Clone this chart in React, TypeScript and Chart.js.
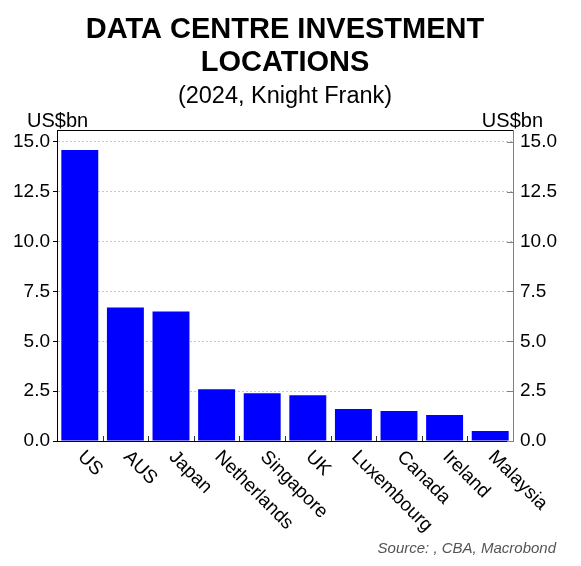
import { useEffect, useRef } from "react"
import { Chart, registerables } from "chart.js"

Chart.register(...registerables)

const FONT = '"Liberation Sans", Arial, sans-serif'

const titleLines = ["DATA CENTRE INVESTMENT", "LOCATIONS"]
const subtitle = "(2024, Knight Frank)"
const unitLabel = "US$bn"
const sourceText = "Source: , CBA, Macrobond"

const countries = [
  "US",
  "AUS",
  "Japan",
  "Netherlands",
  "Singapore",
  "UK",
  "Luxembourg",
  "Canada",
  "Ireland",
  "Malaysia",
]
const investment = [14.6, 6.7, 6.5, 2.6, 2.4, 2.3, 1.6, 1.5, 1.3, 0.5]

const yMin = 0
const yMax = 15.6
const yTicks = [0, 2.5, 5, 7.5, 10, 12.5, 15]

// use our own tick list (chart.js drops 15 and adds 15.6 otherwise)
const setTicks = (scale: any) => {
  scale.ticks = yTicks.map((value) => ({ value }))
}

const overlayPlugin = {
  id: "overlay",
  afterDraw(chart: any) {
    const { ctx, chartArea: a, scales } = chart
    const x = scales.x
    const y2 = scales.y2
    ctx.save()

    // top border of the plot
    ctx.strokeStyle = "#000"
    ctx.lineWidth = 1
    ctx.beginPath()
    ctx.moveTo(a.left, a.top + 0.5)
    ctx.lineTo(a.right, a.top + 0.5)
    ctx.stroke()

    // small ticks between categories, pointing up
    ctx.strokeStyle = "#333"
    for (let i = 1; i < countries.length; i++) {
      const px = Math.round((x.getPixelForValue(i - 1) + x.getPixelForValue(i)) / 2) + 0.5
      ctx.beginPath()
      ctx.moveTo(px, a.bottom)
      ctx.lineTo(px, a.bottom - 5)
      ctx.stroke()
    }

    // inward ticks on the right axis
    ctx.strokeStyle = "#808080"
    y2.ticks.forEach((t: any) => {
      const py = Math.round(y2.getPixelForValue(t.value)) + 0.5
      ctx.beginPath()
      ctx.moveTo(a.right - 6, py)
      ctx.lineTo(a.right, py)
      ctx.stroke()
    })

    // rotated category labels
    ctx.fillStyle = "#000"
    ctx.font = `19px ${FONT}`
    ctx.textAlign = "left"
    ctx.textBaseline = "middle"
    countries.forEach((c, i) => {
      ctx.save()
      ctx.translate(x.getPixelForValue(i) + 1, a.bottom + 13)
      ctx.rotate(Math.PI / 4)
      ctx.fillText(c, 0, 0)
      ctx.restore()
    })

    // titles
    const cx = (a.left + a.right) / 2
    ctx.textAlign = "center"
    ctx.textBaseline = "alphabetic"
    ctx.font = `bold 29px ${FONT}`
    ctx.fillText(titleLines[0], cx, 38)
    ctx.fillText(titleLines[1], cx, 71)
    ctx.font = `23.5px ${FONT}`
    ctx.fillText(subtitle, cx, 103)

    // units above each axis
    ctx.font = `20px ${FONT}`
    ctx.textAlign = "left"
    ctx.fillText(unitLabel, 27, 127)
    ctx.textAlign = "right"
    ctx.fillText(unitLabel, 543, 127)

    // source note
    ctx.font = `italic 15px ${FONT}`
    ctx.fillStyle = "#555"
    ctx.fillText(sourceText, 556, 553)

    ctx.restore()
  },
}

export default function App() {
  const chartRef = useRef<HTMLCanvasElement>(null)
  const chartInstance = useRef<Chart | null>(null)

  useEffect(() => {
    document.body.style.margin = "0"
    if (!chartRef.current) return
    if (chartInstance.current) chartInstance.current.destroy()

    const ctx = chartRef.current.getContext("2d")
    if (!ctx) return

    chartInstance.current = new Chart(ctx, {
      type: "bar",
      data: {
        labels: countries,
        datasets: [
          {
            label: "Investment",
            data: investment,
            backgroundColor: "#0000ff",
            borderWidth: 0,
            categoryPercentage: 1,
            barPercentage: 0.81,
            yAxisID: "y",
          },
        ],
      },
      options: {
        animation: false,
        responsive: true,
        maintainAspectRatio: false,
        layout: { padding: { top: 130, bottom: 125, left: 0, right: 0 } },
        plugins: {
          legend: { display: false },
          title: { display: false },
          tooltip: { enabled: false },
        },
        scales: {
          x: {
            grid: { display: false },
            border: { display: true, color: "#000", width: 1 },
            ticks: { display: false },
            afterFit: (scale: any) => {
              scale.height = 0
            },
          },
          y: {
            position: "left",
            min: yMin,
            max: yMax,
            afterBuildTicks: setTicks,
            afterFit: (scale: any) => {
              scale.width = 57
            },
            ticks: {
              padding: 3,
              color: "#000",
              font: { family: FONT, size: 19 },
              callback: (v: any) => Number(v).toFixed(1),
            },
            grid: {
              color: "#c8c8c8",
              tickColor: "#000",
              tickLength: 4,
            },
            border: { color: "#000", width: 1, dash: [2, 2] },
          },
          y2: {
            position: "right",
            min: yMin,
            max: yMax,
            afterBuildTicks: setTicks,
            afterFit: (scale: any) => {
              scale.width = 68
            },
            ticks: {
              padding: 7,
              color: "#000",
              font: { family: FONT, size: 19 },
              callback: (v: any) => Number(v).toFixed(1),
            },
            grid: { drawOnChartArea: false, drawTicks: false },
            border: { color: "#808080", width: 1 },
          },
        },
      },
      plugins: [overlayPlugin],
    })

    return () => {
      if (chartInstance.current) {
        chartInstance.current.destroy()
        chartInstance.current = null
      }
    }
  }, [])

  return (
    <div style={{ width: 581, height: 566, position: "relative" }}>
      <canvas ref={chartRef} />
    </div>
  )
}
